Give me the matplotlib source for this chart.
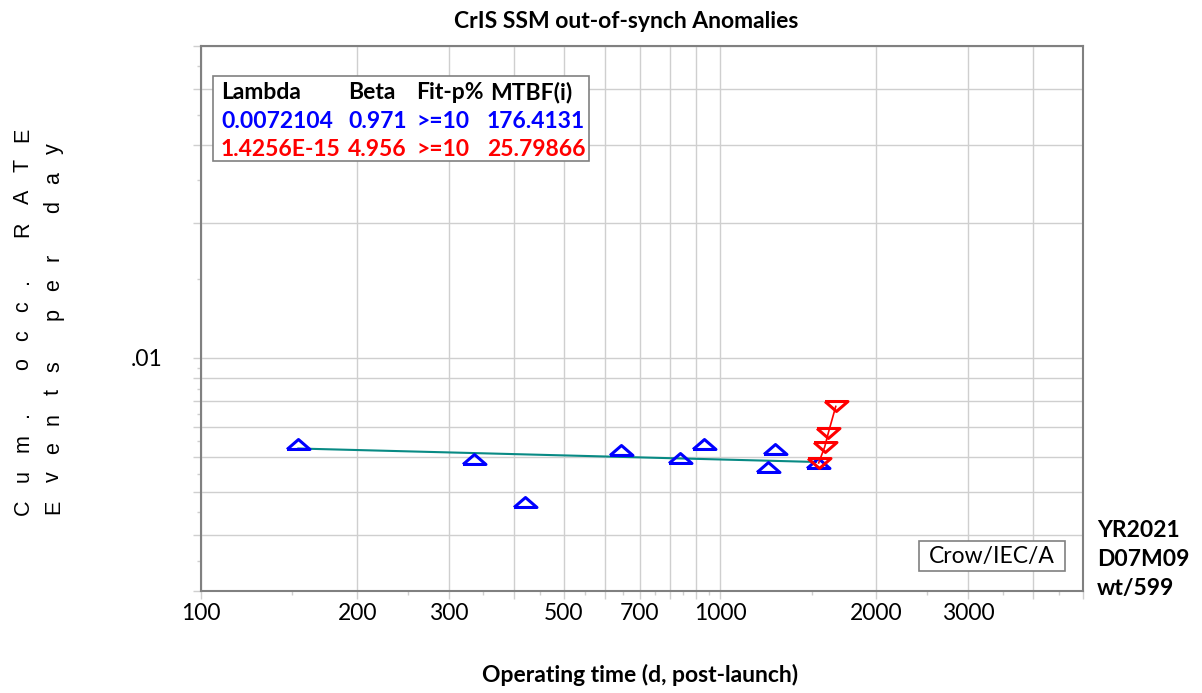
import matplotlib
matplotlib.use("Agg")
import matplotlib.pyplot as plt
from matplotlib.patches import Rectangle
from matplotlib.font_manager import FontProperties
from matplotlib.ticker import FixedLocator, FixedFormatter, NullFormatter

W, H = 1202, 693

# observed cumulative occurrence rate (blue) and last-window points (red)
obs_t = [154, 335, 421, 645, 836, 929, 1277, 1239, 1545]
obs_rate = [0.00642, 0.00594, 0.00474, 0.00620, 0.00597, 0.00642, 0.00624, 0.00568, 0.00582]
recent_t = [1548, 1590, 1616, 1670]
recent_rate = [0.00581, 0.00631, 0.00679, 0.00778]
# Crow fit line (straight in log-log), read at its two ends
fit_t = [154, 1530]
fit_rate = [0.00626, 0.00584]

x_major = [100, 200, 300, 400, 500, 600, 700, 800, 900,
           1000, 2000, 3000, 4000, 5000]
x_labels = ["100", "200", "300", "", "500", "", "700", "", "",
            "1000", "2000", "3000", "", ""]
x_minor = [150, 250, 350, 450, 550, 650, 750, 850, 950,
           1500, 2500, 3500, 4500]
y_major = [0.003, 0.004, 0.005, 0.006, 0.007, 0.008, 0.009,
           0.01, 0.02, 0.03, 0.04, 0.05]
y_labels = ["", "", "", "", "", "", "", ".01", "", "", "", ""]
y_minor = [0.0035, 0.0045, 0.0055, 0.0065, 0.0075, 0.0085, 0.0095,
           0.015, 0.025, 0.035, 0.045]

table_head = ["Lambda", "Beta", "Fit-p%", "MTBF(i)"]
table_blue = ["0.0072104", "0.971", ">=10", "176.4131"]
table_red = ["1.4256E-15", "4.956", ">=10", "25.79866"]
stamp = ["YR2021", "D07M09", "wt/599"]
ylab1 = "Cum. occ. RATE"
ylab2 = "Events per day"

FONT = "Lato"
GRID = "#cfcfcf"
SPINE = "#808080"


def fx(x):
    return x / W


def fy(y):
    return 1 - y / H


fig = plt.figure(figsize=(W / 100, H / 100), dpi=100)
ax = fig.add_axes([fx(201), fy(591), (1083 - 201) / W, (591 - 46) / H])
ax.set_xscale("log")
ax.set_yscale("log")
ax.set_xlim(100, 5000)
ax.set_ylim(0.003, 0.05)

ax.xaxis.set_major_locator(FixedLocator(x_major))
ax.xaxis.set_major_formatter(FixedFormatter(x_labels))
ax.xaxis.set_minor_locator(FixedLocator(x_minor))
ax.xaxis.set_minor_formatter(NullFormatter())
ax.yaxis.set_major_locator(FixedLocator(y_major))
ax.yaxis.set_major_formatter(FixedFormatter(y_labels))
ax.yaxis.set_minor_locator(FixedLocator(y_minor))
ax.yaxis.set_minor_formatter(NullFormatter())

ax.grid(True, which="major", color=GRID, lw=1.0)
ax.set_axisbelow(True)
ax.tick_params(which="major", length=5.5, width=1.0, color=GRID,
               labelsize=16.5, labelfontfamily=FONT)
ax.tick_params(which="minor", length=3, width=1.0, color=GRID)
ax.tick_params(axis="x", which="major", pad=3)
ax.tick_params(axis="y", which="major", pad=22)
for s in ax.spines.values():
    s.set_color(SPINE)
    s.set_linewidth(1.5)

tri_up = [(-2.3, -1), (2.3, -1), (0, 1), (-2.3, -1)]
tri_dn = [(-2.3, 1), (2.3, 1), (0, -1), (-2.3, 1)]

ax.plot(fit_t, fit_rate, color="#088a84", lw=1.5, zorder=3)
ax.plot(obs_t, obs_rate, ls="none", marker=tri_up, ms=16.5, mfc="none",
        mec="#0000ff", mew=2.2, zorder=4)
ax.plot(recent_t, recent_rate, color="#ff0000", lw=1.2, marker=tri_dn,
        ms=16.5, mfc="none", mec="#ff0000", mew=2.2, zorder=5)

# title and x label
fig.text(fx(626), fy(28), "CrIS SSM out-of-synch Anomalies", ha="center",
         va="baseline", fontsize=16.5, fontweight="bold", family=FONT)
fig.text(fx(640), fy(682), "Operating time (d, post-launch)", ha="center",
         va="baseline", fontsize=16.5, fontweight="bold", family=FONT)

# letter-spaced y label (two columns), laid out one character at a time
lab_prop = FontProperties(family="Liberation Sans", size=15.5)
renderer = fig.canvas.get_renderer()
em_px = 15.5 * 100 / 72
gap = 17.5
for label, xb in [(ylab1, 28.5), (ylab2, 59)]:
    widths = []
    for ch in label:
        if ch == " ":
            widths.append(0.278 * em_px)
        else:
            w, _, _ = renderer.get_text_width_height_descent(ch, lab_prop,
                                                             ismath=False)
            widths.append(w)
    pos = 507 + widths[0] / 2
    for ch, w in zip(label, widths):
        yc = pos - w / 2
        pos -= w + gap
        if ch == " ":
            continue
        fig.text(fx(xb), fy(yc), ch, rotation=90, rotation_mode="anchor",
                 ha="center", va="baseline", fontproperties=lab_prop)

# parameter table box
fig.patches.append(Rectangle((fx(212.7), fy(160.7)), (589 - 212.7) / W,
                             (160.7 - 75.7) / H, transform=fig.transFigure,
                             facecolor="white", edgecolor=SPINE, lw=1.2,
                             zorder=6))
col_x = [221, 348, 416, 487]
for j, txt in enumerate(table_head):
    xj = 490 if j == 3 else col_x[j]
    fig.text(fx(xj), fy(99.3), txt, ha="left", va="baseline", fontsize=16.5,
             fontweight="bold", family=FONT, color="black", zorder=7)
for vals, c, yb in [(table_blue, "#0000ff", 127.5),
                    (table_red, "#ff0000", 156)]:
    for j, txt in enumerate(vals):
        fig.text(fx(col_x[j]), fy(yb), txt, ha="left", va="baseline",
                 fontsize=16.5, fontweight="bold", family=FONT, color=c,
                 zorder=7)

# method box
fig.patches.append(Rectangle((fx(919), fy(571)), (1065 - 919) / W,
                             (571 - 541) / H, transform=fig.transFigure,
                             facecolor="white", edgecolor=SPINE, lw=1.2,
                             zorder=6))
fig.text(fx(992), fy(556.5), "Crow/IEC/A", ha="center", va="center",
         fontsize=16.5, family=FONT, zorder=7)

for k, txt in enumerate(stamp):
    fig.text(fx(1097), fy(537 + 29 * k), txt, ha="left", va="baseline",
             fontsize=16.5, fontweight="bold", family=FONT)

fig.savefig("out.png", dpi=100, facecolor="white")
